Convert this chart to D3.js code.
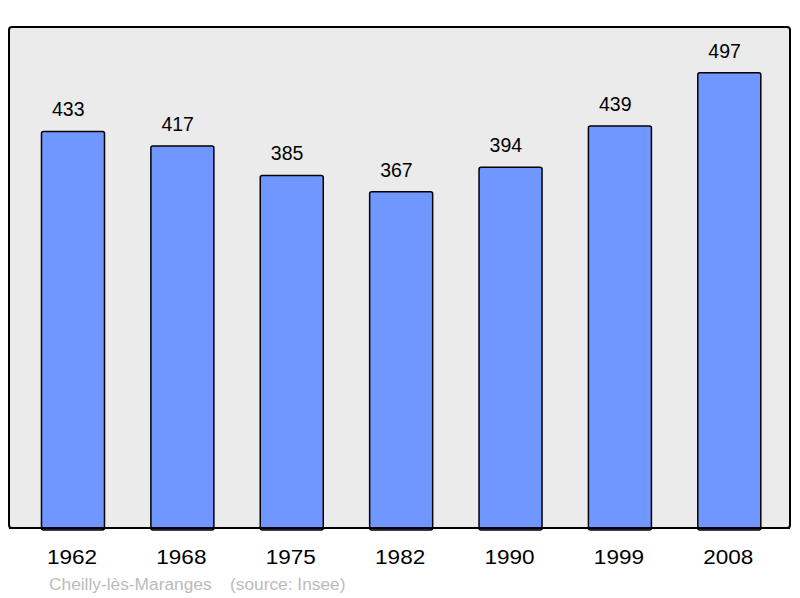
<!DOCTYPE html>
<html>
<head>
<meta charset="utf-8">
<script src="https://cdn.jsdelivr.net/npm/d3@7"></script>
<style>
  body { margin: 0; background: #fff; }
  text { font-family: "Liberation Sans", Arial, sans-serif; }
</style>
</head>
<body>
<div id="chart"></div>
<script>
var years = ["1962", "1968", "1975", "1982", "1990", "1999", "2008"];
var population = [433, 417, 385, 367, 394, 439, 497];
var commune = "Cheilly-lès-Maranges";
var sourceNote = "(source: Insee)";

var width = 800, height = 598;
var frameLeft = 9, frameTop = 27, frameRight = 790, frameBottom = 528;

var svg = d3.select("#chart").append("svg")
	.attr("width", width)
	.attr("height", height);

// background frame
svg.append("rect")
	.attr("x", frameLeft)
	.attr("y", frameTop)
	.attr("width", frameRight - frameLeft)
	.attr("height", frameBottom - frameTop)
	.attr("rx", 3)
	.style("fill", "#ebebeb")
	.style("stroke", "#000")
	.style("stroke-width", 2);

var xScale = d3.scaleBand()
	.domain(years)
	.range([18.3, 784])
	.paddingInner(0.424)
	.paddingOuter(0.212);

var yScale = d3.scaleLinear()
	.domain([0, 547])
	.range([frameBottom, frameTop]);

var bars = svg.append("g");

bars.selectAll("rect").data(population).enter().append("rect")
	.attr("x", function(d, i) { return xScale(years[i]); })
	.attr("y", function(d) { return yScale(d); })
	.attr("width", xScale.bandwidth())
	.attr("height", function(d) { return yScale(0) - yScale(d) + 2; })
	.attr("rx", 2)
	.style("fill", "#7097ff")
	.style("stroke", "#000")
	.style("stroke-width", 1.5);

// redraw bottom border over the bars
svg.append("line")
	.attr("x1", frameLeft)
	.attr("x2", frameRight)
	.attr("y1", frameBottom)
	.attr("y2", frameBottom)
	.style("stroke", "#000")
	.style("stroke-width", 2);

// value labels sit a bit left of the bar centre
bars.selectAll("text.value").data(population).enter().append("text")
	.attr("class", "value")
	.attr("x", function(d, i) { return xScale(years[i]) + xScale.bandwidth() / 2 - 4.7; })
	.attr("y", function(d) { return yScale(d) - 15; })
	.attr("text-anchor", "middle")
	.style("font-size", "19.5px")
	.style("fill", "#000")
	.text(function(d) { return d; });

// year labels (slightly stretched wide)
var xAxis = svg.append("g");
xAxis.selectAll("text").data(years).enter().append("text")
	.attr("transform", function(d) {
		return "translate(" + (xScale(d) + xScale.bandwidth() / 2 - 1) + ",564) scale(1.1,1)";
	})
	.attr("text-anchor", "middle")
	.style("font-size", "20.5px")
	.style("fill", "#000")
	.text(function(d) { return d; });

svg.append("text")
	.attr("transform", "translate(49,590) scale(1.05,1)")
	.style("font-size", "16.5px")
	.style("fill", "#bbbbbb")
	.text(commune);

svg.append("text")
	.attr("transform", "translate(230,590) scale(1.05,1)")
	.style("font-size", "16.5px")
	.style("fill", "#bbbbbb")
	.text(sourceNote);
</script>
</body>
</html>
